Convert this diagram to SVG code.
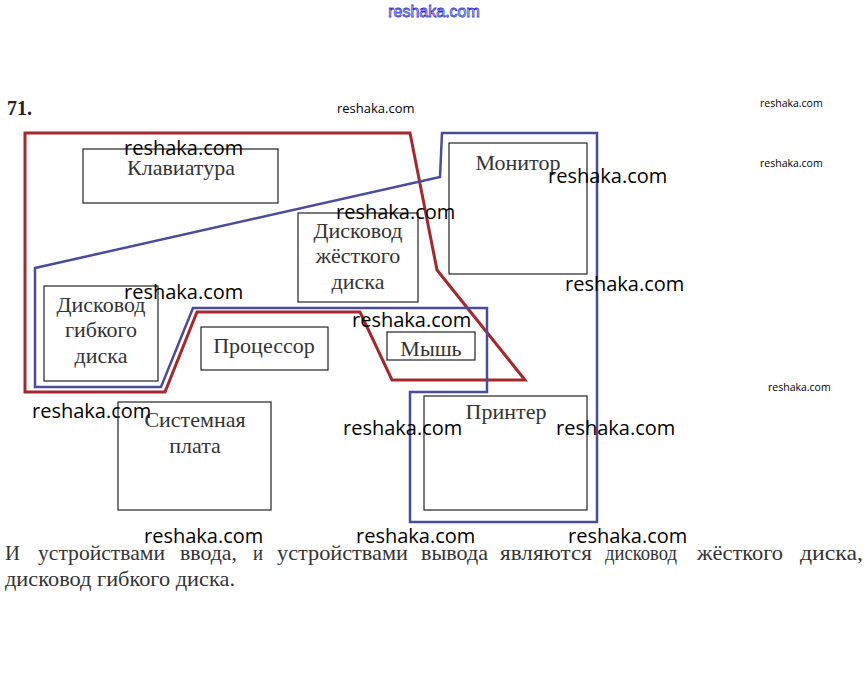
<svg xmlns="http://www.w3.org/2000/svg" width="867" height="683" viewBox="0 0 867 683">
<style>
.box{fill:none;stroke:#222;stroke-width:1.2}
.lbl{font-family:"Liberation Serif","DejaVu Serif",serif;font-size:22px;fill:#333;text-anchor:middle}
.wm{font-family:"Open Sans","Liberation Sans",sans-serif;font-size:20px;fill:#000}
.wms{font-family:"Open Sans","Liberation Sans",sans-serif;fill:#000}
.red{fill:none;stroke:#a5282f;stroke-width:3;stroke-linejoin:miter}
.blue{fill:none;stroke:#4b4b9b;stroke-width:2.5;stroke-linejoin:miter}
.body{font-family:"Liberation Serif","DejaVu Serif",serif;font-size:21px;fill:#333}
</style>
<rect width="867" height="683" fill="#fff"/>
<text x="434" y="17" text-anchor="middle" font-family="Liberation Sans,Arial,sans-serif" font-size="16" fill="#fff" stroke="#3333cc" stroke-width="0.8">reshaka.com</text>
<text x="7" y="115" font-family="Liberation Serif,serif" font-size="20" font-weight="bold" fill="#222">71.</text>
<g id="connectors">
<polygon class="red" points="25,133 410,133 437,270 525,380 392,380 360,312 197,312 165,392 25,392"/>
<polygon class="blue" points="35,268 440,177 442,133 597,133 597,522 410,522 410,392 487,392 487,308 193,308 161,387 35,387"/>
</g>
<g id="keyboard"><rect class="box" x="83" y="149" width="195" height="54"/><text class="lbl" x="181" y="175">Клавиатура</text></g>
<g id="monitor"><rect class="box" x="449" y="143" width="138" height="131"/><text class="lbl" x="518" y="170">Монитор</text></g>
<g id="hdd"><rect class="box" x="298" y="213" width="120" height="89"/><text class="lbl" x="358" y="238">Дисковод</text><text class="lbl" x="358" y="263">жёсткого</text><text class="lbl" x="358" y="289">диска</text></g>
<g id="fdd"><rect class="box" x="44" y="286" width="114" height="95"/><text class="lbl" x="101" y="312">Дисковод</text><text class="lbl" x="101" y="337">гибкого</text><text class="lbl" x="101" y="363">диска</text></g>
<g id="cpu"><rect class="box" x="201" y="327" width="127" height="43"/><text class="lbl" x="264" y="353">Процессор</text></g>
<g id="mouse"><rect class="box" x="387" y="332" width="88" height="28"/><text class="lbl" x="431" y="356">Мышь</text></g>
<g id="motherboard"><rect class="box" x="118" y="402" width="153" height="108"/><text class="lbl" x="195" y="427">Системная</text><text class="lbl" x="195" y="453">плата</text></g>
<g id="printer"><rect class="box" x="424" y="396" width="163" height="114"/><text class="lbl" x="506" y="419" font-size="17.5">Принтер</text></g>
<g id="answer">
<text class="body" x="5" y="560" textLength="15" lengthAdjust="spacingAndGlyphs">И</text>
<text class="body" x="38" y="560" textLength="127" lengthAdjust="spacingAndGlyphs">устройствами</text>
<text class="body" x="180" y="560" textLength="57" lengthAdjust="spacingAndGlyphs">ввода,</text>
<text class="body" x="253" y="560" textLength="10" lengthAdjust="spacingAndGlyphs">и</text>
<text class="body" x="277" y="560" textLength="131" lengthAdjust="spacingAndGlyphs">устройствами</text>
<text class="body" x="421" y="560" textLength="67" lengthAdjust="spacingAndGlyphs">вывода</text>
<text class="body" x="500" y="560" textLength="92" lengthAdjust="spacingAndGlyphs">являются</text>
<text class="body" x="605" y="560" textLength="72" lengthAdjust="spacingAndGlyphs">дисковод</text>
<text class="body" x="697" y="560" textLength="86" lengthAdjust="spacingAndGlyphs">жёсткого</text>
<text class="body" x="800" y="560" textLength="63" lengthAdjust="spacingAndGlyphs">диска,</text>
<text class="body" x="5" y="586" textLength="230" lengthAdjust="spacingAndGlyphs">дисковод гибкого диска.</text>
</g>
<g id="watermarks">
<text class="wms" x="337" y="113" font-size="13">reshaka.com</text>
<text class="wms" x="760" y="107" font-size="10.5">reshaka.com</text>
<text class="wms" x="760" y="167" font-size="10.5">reshaka.com</text>
<text class="wms" x="768" y="391" font-size="10.5">reshaka.com</text>
<text class="wm" x="124" y="155">reshaka.com</text>
<text class="wm" x="548" y="183">reshaka.com</text>
<text class="wm" x="336" y="219">reshaka.com</text>
<text class="wm" x="565" y="291">reshaka.com</text>
<text class="wm" x="124" y="299">reshaka.com</text>
<text class="wm" x="352" y="327">reshaka.com</text>
<text class="wm" x="32" y="418">reshaka.com</text>
<text class="wm" x="343" y="435">reshaka.com</text>
<text class="wm" x="556" y="435">reshaka.com</text>
<text class="wm" x="144" y="543">reshaka.com</text>
<text class="wm" x="356" y="543">reshaka.com</text>
<text class="wm" x="568" y="543">reshaka.com</text>
</g>
</svg>
